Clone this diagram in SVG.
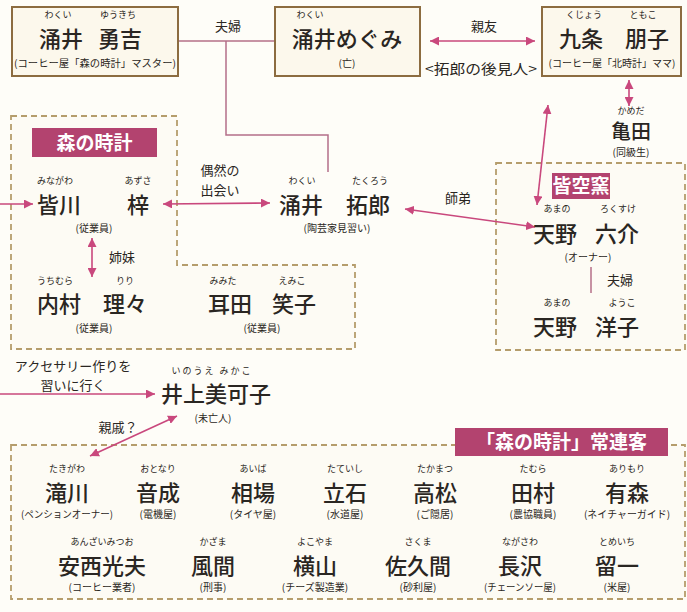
<svg xmlns="http://www.w3.org/2000/svg" width="687" height="612" viewBox="0 0 687 612">
<defs>
<style>
text{font-family:"Noto Sans CJK JP","Noto Sans CJK SC",sans-serif;fill:#2a2622}
.rb{font-size:9px;text-anchor:middle}
.nm{font-size:22px;text-anchor:middle;font-weight:500}
.sb{font-size:10px;text-anchor:middle}
.lb{font-size:13px;text-anchor:middle}
.box{fill:#fcf8ec;stroke:#8c6c40;stroke-width:2}
.dash{fill:#fdfbf4;stroke:#b59d6c;stroke-width:1.8;stroke-dasharray:6 4}
.tag{fill:#b3436f}
.tagt{font-size:19px;font-weight:bold;fill:#ffffff;text-anchor:middle}
.arr{stroke:#c9487d;stroke-width:1.6;fill:none}
.rel{stroke:#b46f89;stroke-width:1.5;fill:none}
</style>
<marker id="ah" viewBox="0 0 10 10" refX="10" refY="5" markerWidth="9" markerHeight="9" markerUnits="userSpaceOnUse" orient="auto-start-reverse">
<path d="M0,0 L10,5 L0,10 z" fill="#c9487d"/>
</marker>
</defs>
<rect width="687" height="612" fill="#fefdf8"/>

<g id="group-mori">
<path class="dash" d="M11,116 H177 V265 H355 V349 H11 Z"/>
<rect class="tag" x="32" y="128" width="125" height="29"/>
<text class="tagt" x="94.5" y="150">森の時計</text>
</g>
<g id="group-kaikuugama">
<rect class="dash" x="496" y="163" width="189" height="187"/>
<rect class="tag" x="552" y="173" width="58" height="26"/>
<text class="tagt" x="581" y="193">皆空窯</text>
</g>
<g id="group-regulars">
<rect class="dash" x="11" y="445" width="674" height="154"/>
<rect class="tag" x="455" y="428" width="213" height="28"/>
<text class="tagt" x="561.5" y="449">「森の時計」常連客</text>
</g>

<g id="connectors">
<path class="rel" d="M178,41 H275"/>
<path class="rel" d="M226,41 V135 H328 V172"/>
<path class="rel" d="M591,267 V293"/>
<line class="arr" x1="430" y1="41" x2="535" y2="41" marker-start="url(#ah)" marker-end="url(#ah)"/>
<line class="arr" x1="629" y1="80" x2="629" y2="106" marker-start="url(#ah)" marker-end="url(#ah)"/>
<line class="arr" x1="537" y1="205" x2="548" y2="105" marker-start="url(#ah)" marker-end="url(#ah)"/>
<line class="arr" x1="405" y1="209" x2="535" y2="227" marker-start="url(#ah)" marker-end="url(#ah)"/>
<line class="arr" x1="163" y1="204" x2="270" y2="203" marker-start="url(#ah)" marker-end="url(#ah)"/>
<line class="arr" x1="0" y1="204" x2="33" y2="204" marker-end="url(#ah)"/>
<line class="arr" x1="92" y1="238" x2="92" y2="277" marker-start="url(#ah)" marker-end="url(#ah)"/>
<line class="arr" x1="0" y1="394" x2="155" y2="394" marker-end="url(#ah)"/>
<line class="arr" x1="90" y1="456" x2="177" y2="416" marker-start="url(#ah)" marker-end="url(#ah)"/>
<text class="lb" x="228" y="31">夫婦</text>
<text class="lb" x="484" y="31">親友</text>
<text class="lb" x="481" y="74" style="font-size:14px" textLength="112" lengthAdjust="spacingAndGlyphs">&lt;拓郎の後見人&gt;</text>
<text class="lb" x="220" y="175">偶然の</text>
<text class="lb" x="220" y="195">出会い</text>
<text class="lb" x="122" y="262">姉妹</text>
<text class="lb" x="458" y="203">師弟</text>
<text class="lb" x="620" y="285">夫婦</text>
<text class="lb" x="73" y="371">アクセサリー作りを</text>
<text class="lb" x="73" y="390">習いに行く</text>
<text class="lb" x="118" y="432">親戚？</text>
</g>

<g id="node-yukichi">
<rect class="box" x="12" y="7" width="166" height="69"/>
<text class="rb" x="58" y="18">わくい</text>
<text class="rb" x="118" y="18">ゆうきち</text>
<text class="nm" x="61" y="47">涌井</text>
<text class="nm" x="120" y="47">勇吉</text>
<text class="sb" x="95" y="67" textLength="162" lengthAdjust="spacingAndGlyphs">(コーヒー屋「森の時計」マスター)</text>
</g>
<g id="node-megumi">
<rect class="box" x="275" y="7" width="145" height="69"/>
<text class="rb" x="310" y="18">わくい</text>
<text class="nm" x="347" y="47">涌井めぐみ</text>
<text class="sb" x="347" y="67">(亡)</text>
</g>
<g id="node-tomoko">
<rect class="box" x="542" y="7" width="139" height="69"/>
<text class="rb" x="584" y="18">くじょう</text>
<text class="rb" x="643" y="18">ともこ</text>
<text class="nm" x="581" y="47">九条</text>
<text class="nm" x="647" y="47">朋子</text>
<text class="sb" x="612" y="67" textLength="127" lengthAdjust="spacingAndGlyphs">(コーヒー屋「北時計」ママ)</text>
</g>
<g id="node-kameda">
<text class="rb" x="631" y="114">かめだ</text>
<text class="nm" x="631" y="139" style="font-size:20px">亀田</text>
<text class="sb" x="631" y="156">(同級生)</text>
</g>
<g id="node-azusa">
<text class="rb" x="55" y="184">みながわ</text>
<text class="rb" x="138" y="184">あずさ</text>
<text class="nm" x="59" y="213">皆川</text>
<text class="nm" x="138" y="213">梓</text>
<text class="sb" x="94" y="232">(従業員)</text>
</g>
<g id="node-riri">
<text class="rb" x="55" y="284">うちむら</text>
<text class="rb" x="125" y="284">りり</text>
<text class="nm" x="59" y="312">内村</text>
<text class="nm" x="125" y="312">理々</text>
<text class="sb" x="94" y="332">(従業員)</text>
</g>
<g id="node-emiko">
<text class="rb" x="223" y="284">みみた</text>
<text class="rb" x="292" y="284">えみこ</text>
<text class="nm" x="230" y="312">耳田</text>
<text class="nm" x="294" y="312">笑子</text>
<text class="sb" x="262" y="332">(従業員)</text>
</g>
<g id="node-takuro">
<text class="rb" x="302" y="184">わくい</text>
<text class="rb" x="370" y="184">たくろう</text>
<text class="nm" x="301" y="213">涌井</text>
<text class="nm" x="368" y="213">拓郎</text>
<text class="sb" x="337" y="232">(陶芸家見習い)</text>
</g>
<g id="node-rokusuke">
<text class="rb" x="557" y="212">あまの</text>
<text class="rb" x="618" y="212">ろくすけ</text>
<text class="nm" x="555" y="242">天野</text>
<text class="nm" x="617" y="242">六介</text>
<text class="sb" x="588" y="261">(オーナー)</text>
</g>
<g id="node-yoko">
<text class="rb" x="557" y="306">あまの</text>
<text class="rb" x="622" y="306">ようこ</text>
<text class="nm" x="555" y="335">天野</text>
<text class="nm" x="617" y="335">洋子</text>
</g>
<g id="node-mikako">
<text class="rb" x="212" y="374" style="letter-spacing:2px">いのうえ みかこ</text>
<text class="nm" x="216" y="402">井上美可子</text>
<text class="sb" x="213" y="422">(未亡人)</text>
</g>

<g id="node-takigawa"><text class="rb" x="67" y="472">たきがわ</text><text class="nm" x="67" y="501">滝川</text><text class="sb" x="67" y="518" textLength="92" lengthAdjust="spacingAndGlyphs">(ペンションオーナー)</text></g>
<g id="node-otonari"><text class="rb" x="158" y="472">おとなり</text><text class="nm" x="158" y="501">音成</text><text class="sb" x="158" y="518">(電機屋)</text></g>
<g id="node-aiba"><text class="rb" x="253" y="472">あいば</text><text class="nm" x="253" y="501">相場</text><text class="sb" x="253" y="518">(タイヤ屋)</text></g>
<g id="node-tateishi"><text class="rb" x="345" y="472">たていし</text><text class="nm" x="345" y="501">立石</text><text class="sb" x="345" y="518">(水道屋)</text></g>
<g id="node-takamatsu"><text class="rb" x="435" y="472">たかまつ</text><text class="nm" x="435" y="501">高松</text><text class="sb" x="435" y="518">(ご隠居)</text></g>
<g id="node-tamura"><text class="rb" x="533" y="472">たむら</text><text class="nm" x="533" y="501">田村</text><text class="sb" x="533" y="518">(農協職員)</text></g>
<g id="node-arimori"><text class="rb" x="627" y="472">ありもり</text><text class="nm" x="627" y="501">有森</text><text class="sb" x="627" y="518" textLength="86" lengthAdjust="spacingAndGlyphs">(ネイチャーガイド)</text></g>

<g id="node-anzai"><text class="rb" x="102" y="545">あんざいみつお</text><text class="nm" x="102" y="574">安西光夫</text><text class="sb" x="102" y="591">(コーヒー業者)</text></g>
<g id="node-kazama"><text class="rb" x="213" y="545">かざま</text><text class="nm" x="213" y="574">風間</text><text class="sb" x="213" y="591">(刑事)</text></g>
<g id="node-yokoyama"><text class="rb" x="315" y="545">よこやま</text><text class="nm" x="315" y="574">横山</text><text class="sb" x="315" y="591">(チーズ製造業)</text></g>
<g id="node-sakuma"><text class="rb" x="418" y="545">さくま</text><text class="nm" x="418" y="574">佐久間</text><text class="sb" x="418" y="591">(砂利屋)</text></g>
<g id="node-nagasawa"><text class="rb" x="520" y="545">ながさわ</text><text class="nm" x="520" y="574">長沢</text><text class="sb" x="520" y="591" textLength="72" lengthAdjust="spacingAndGlyphs">(チェーンソー屋)</text></g>
<g id="node-tomeichi"><text class="rb" x="617" y="545">とめいち</text><text class="nm" x="617" y="574">留一</text><text class="sb" x="617" y="591">(米屋)</text></g>
</svg>
